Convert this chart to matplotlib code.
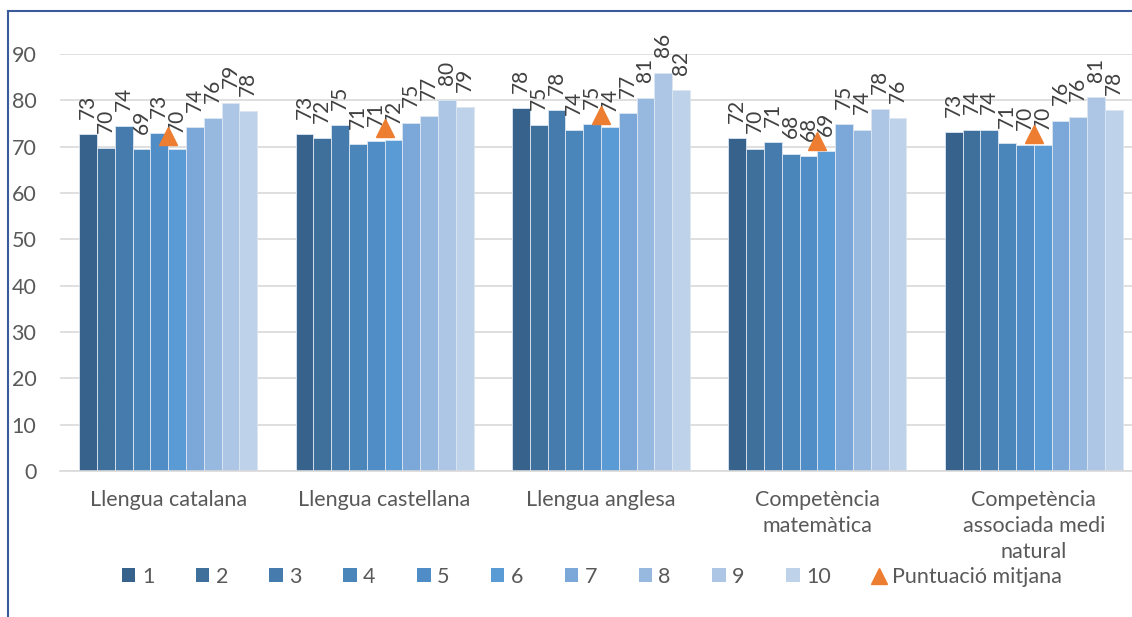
import numpy as np
import matplotlib
matplotlib.use("Agg")
import matplotlib.pyplot as plt
from matplotlib.patches import Patch
from matplotlib.lines import Line2D

plt.rcParams['font.family'] = ['Lato', 'DejaVu Sans']

categories = ["Llengua catalana", "Llengua castellana", "Llengua anglesa",
              "Competència\nmatemàtica", "Competència\nassociada medi\nnatural"]
series_names = ["1", "2", "3", "4", "5", "6", "7", "8", "9", "10"]

# values per category, one entry per series 1..10
catalana = [72.7, 69.7, 74.4, 69.4, 72.9, 69.6, 74.2, 76.1, 79.4, 77.6]
castellana = [72.7, 71.9, 74.6, 70.6, 71.2, 71.5, 75.2, 76.7, 80.1, 78.6]
anglesa = [78.3, 74.7, 77.9, 73.5, 74.8, 74.2, 77.2, 80.6, 86.0, 82.2]
matematica = [71.8, 69.6, 71.0, 68.5, 68.0, 69.1, 74.9, 73.7, 78.1, 76.1]
medi_natural = [73.2, 73.7, 73.7, 70.8, 70.3, 70.4, 75.6, 76.5, 80.7, 77.9]
mitjana = [72.4, 74.0, 76.9, 71.2, 72.7]

colors = ["#37628C", "#3F6F9B", "#457BAD", "#4A86B9", "#508DC7",
          "#5B9BD5", "#7BA8D9", "#98B9DF", "#ADC6E5", "#BED2EA"]

values = np.array([catalana, castellana, anglesa, matematica, medi_natural])
text_color = "#595959"
fs = 15.5

fig = plt.figure(figsize=(11.32, 6.17), dpi=100)
ax = fig.add_axes([60 / 1132, 1 - 471 / 617, 1082 / 1132, (471 - 54) / 617])

x = np.arange(len(categories))
bw = 0.0822
for j in range(len(series_names)):
    pos = x + (j - 4.5) * bw
    ax.bar(pos, values[:, j], width=bw, color=colors[j], edgecolor="#DCE6F2",
           linewidth=0.6, zorder=2)
    for xi, v in zip(pos, values[:, j]):
        ax.annotate(f"{v:.0f}", (xi, v), xytext=(0, 11), textcoords="offset points",
                    rotation=90, ha="center", va="bottom", fontsize=fs - 0.5,
                    color="#404040", annotation_clip=False)

ax.plot(x, mitjana, linestyle="none", marker="^", markersize=13,
        color="#ED7D31", zorder=3)

ax.set_xlim(-0.5, 4.5)
ax.set_ylim(0, 90)
ax.set_yticks(range(0, 91, 10))
ax.grid(axis="y", color="#D9D9D9", linewidth=1.2, zorder=0)
ax.set_axisbelow(True)
for s in ["top", "right", "left"]:
    ax.spines[s].set_visible(False)
ax.spines["bottom"].set_color("#D9D9D9")
ax.spines["bottom"].set_linewidth(1.2)
ax.set_xticks(x)
ax.set_xticklabels(categories, fontsize=fs, color=text_color, linespacing=1.35)
ax.tick_params(axis="x", length=0, pad=14)
ax.tick_params(axis="y", length=0, pad=17, labelsize=fs, labelcolor=text_color)

handles = [Patch(facecolor=c, edgecolor="none") for c in colors]
handles.append(Line2D([], [], linestyle="none", marker="^", markersize=12,
                      color="#ED7D31"))
labels = series_names + ["Puntuació mitjana"]
fig.legend(handles, labels, loc="center left", bbox_to_anchor=(122 / 1132, 1 - 577 / 617),
           ncol=11, frameon=False, fontsize=fs, labelcolor=text_color,
           handlelength=0.62, handleheight=0.62, handletextpad=0.3,
           columnspacing=1.93, borderpad=0, borderaxespad=0)

# frame lines of the cropped chart
border = "#3A5A9A"
fig.add_artist(Line2D([8 / 1132, 1], [1 - 11 / 617, 1 - 11 / 617],
                      transform=fig.transFigure, color=border, linewidth=1.5))
fig.add_artist(Line2D([8 / 1132, 8 / 1132], [0, 1 - 11 / 617],
                      transform=fig.transFigure, color=border, linewidth=1.5))

fig.savefig("out.png", dpi=100)
